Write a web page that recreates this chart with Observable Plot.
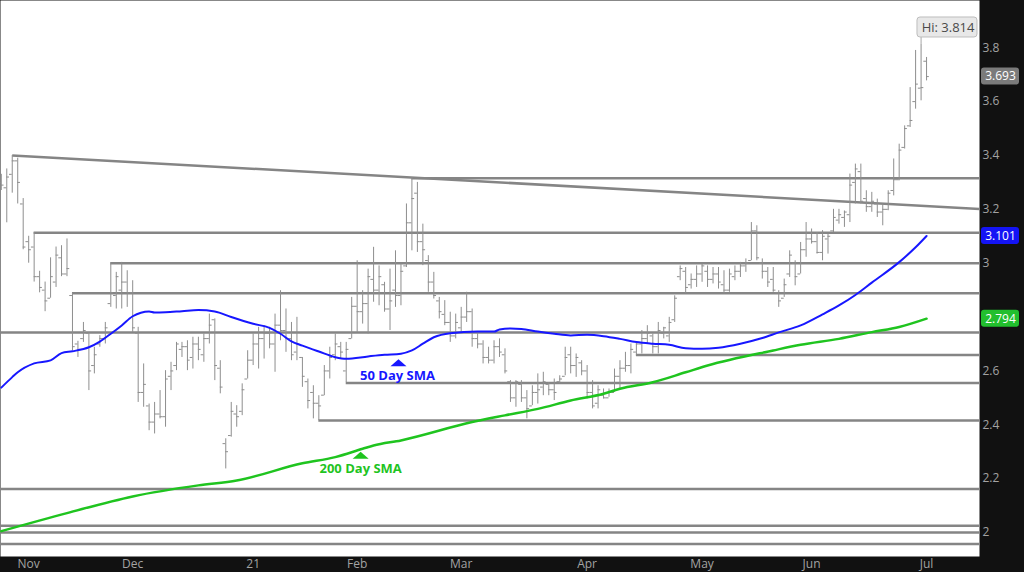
<!DOCTYPE html>
<html><head><meta charset="utf-8">
<script src="https://cdn.jsdelivr.net/npm/d3@7"></script>
<script src="https://cdn.jsdelivr.net/npm/@observablehq/plot@0.6"></script>
<style>
html,body{margin:0;padding:0;background:#111;overflow:hidden;}
</style>
</head><body><div id="chart"></div>
<script>
// ---- Daily OHLC bars (index = trading day, 0 = late Oct 2020) ----
const opens = [
3.30,3.28,3.33,3.38,3.22,3.08,3.06,2.95,2.90,2.87,
2.93,3.02,2.96,2.88,2.70,2.72,2.74,2.62,2.70,2.72,
2.85,2.88,2.90,2.93,2.89,2.74,2.52,2.47,2.41,2.44,
2.43,2.58,2.62,2.68,2.69,2.65,2.70,2.66,2.72,2.79,
2.61,2.33,2.36,2.44,2.45,2.57,2.64,2.70,2.72,2.74,
2.70,2.77,2.75,2.72,2.67,2.65,2.56,2.52,2.48,2.51,
2.60,2.66,2.69,2.60,2.72,2.84,2.82,2.85,2.94,2.90,
2.92,2.83,2.90,2.88,2.99,3.15,3.26,3.08,3.01,2.93,
2.86,2.81,2.78,2.73,2.76,2.80,2.82,2.72,2.70,2.65,
2.64,2.69,2.66,2.56,2.50,2.55,2.50,2.47,2.52,2.54,
2.55,2.53,2.56,2.58,2.66,2.62,2.63,2.60,2.52,2.48,
2.51,2.50,2.52,2.58,2.61,2.62,2.67,2.70,2.72,2.73,
2.69,2.74,2.73,2.79,2.95,2.97,2.92,2.94,2.96,2.97,
2.94,2.96,2.92,2.90,2.95,2.97,2.99,3.01,3.12,3.00,
2.97,2.94,2.89,2.87,2.96,3.00,2.96,3.05,3.09,3.08,
3.04,3.09,3.12,3.16,3.17,3.18,3.30,3.34,3.24,3.21,
3.22,3.19,3.20,3.27,3.31,3.43,3.51,3.60,3.65,3.75];
const highs = [
3.33,3.35,3.40,3.39,3.24,3.10,3.114,2.97,2.93,3.02,
3.06,3.065,3.09,2.888,2.71,2.78,2.743,2.688,2.731,2.78,
3.001,2.966,3.003,2.972,2.935,2.762,2.626,2.477,2.483,2.527,
2.601,2.632,2.706,2.706,2.712,2.725,2.725,2.737,2.811,2.793,
2.638,2.348,2.483,2.471,2.552,2.675,2.737,2.762,2.768,2.762,
2.811,2.898,2.83,2.78,2.799,2.65,2.57,2.545,2.508,2.62,
2.688,2.737,2.706,2.706,2.873,3.009,2.898,2.978,3.059,2.99,
2.929,2.978,3.046,2.997,3.22,3.318,3.30,3.145,3.028,2.966,
2.873,2.861,2.818,2.811,2.836,2.892,2.83,2.743,2.712,2.688,
2.712,2.719,2.682,2.564,2.564,2.564,2.527,2.545,2.589,2.595,
2.557,2.57,2.582,2.688,2.688,2.663,2.638,2.62,2.564,2.545,
2.533,2.533,2.607,2.638,2.669,2.70,2.706,2.75,2.768,2.737,
2.78,2.762,2.799,2.879,2.99,2.984,2.96,2.99,2.997,2.99,
2.984,2.984,2.972,2.978,2.99,3.003,3.016,3.151,3.139,3.016,
2.984,2.984,2.898,2.941,3.046,3.009,3.077,3.151,3.127,3.114,
3.121,3.108,3.20,3.20,3.194,3.331,3.368,3.368,3.269,3.263,
3.238,3.22,3.269,3.387,3.442,3.51,3.652,3.79,3.814,3.764];
const lows = [
3.27,3.15,3.26,3.22,3.05,3.00,2.93,2.89,2.82,2.87,
2.91,2.95,2.95,2.675,2.65,2.706,2.527,2.589,2.688,2.70,
2.836,2.83,2.83,2.836,2.743,2.483,2.465,2.378,2.366,2.422,
2.391,2.527,2.601,2.65,2.601,2.607,2.638,2.632,2.70,2.564,
2.515,2.236,2.354,2.391,2.434,2.57,2.62,2.607,2.644,2.682,
2.595,2.712,2.669,2.638,2.638,2.539,2.459,2.422,2.416,2.508,
2.57,2.638,2.644,2.557,2.719,2.743,2.774,2.737,2.855,2.842,
2.818,2.75,2.836,2.842,2.984,3.046,3.04,2.991,2.892,2.867,
2.793,2.768,2.706,2.719,2.743,2.78,2.688,2.682,2.626,2.626,
2.626,2.65,2.589,2.483,2.465,2.483,2.422,2.471,2.477,2.508,
2.508,2.49,2.552,2.582,2.589,2.576,2.582,2.496,2.459,2.459,
2.496,2.502,2.52,2.533,2.595,2.589,2.659,2.663,2.70,2.663,
2.663,2.719,2.706,2.78,2.935,2.888,2.904,2.91,2.929,2.91,
2.923,2.904,2.886,2.892,2.935,2.947,2.966,3.009,3.009,2.941,
2.91,2.892,2.836,2.873,2.947,2.916,2.96,3.022,3.071,3.034,
3.009,3.034,3.114,3.145,3.133,3.151,3.22,3.22,3.189,3.189,
3.17,3.139,3.195,3.25,3.306,3.424,3.504,3.572,3.603,3.677];
const closes = [
3.29,3.32,3.38,3.30,3.06,3.05,2.95,2.91,2.86,2.95,
3.03,2.96,2.98,2.69,2.68,2.75,2.60,2.66,2.72,2.76,
2.89,2.95,2.93,2.89,2.76,2.52,2.55,2.41,2.44,2.43,
2.57,2.60,2.70,2.69,2.64,2.70,2.68,2.72,2.77,2.62,
2.54,2.30,2.45,2.43,2.53,2.64,2.70,2.72,2.74,2.70,
2.77,2.75,2.72,2.66,2.70,2.58,2.49,2.48,2.47,2.60,
2.65,2.70,2.67,2.68,2.84,2.82,2.85,2.95,2.90,2.95,
2.83,2.86,2.88,2.97,3.15,3.24,3.08,3.05,2.93,2.88,
2.82,2.78,2.73,2.78,2.80,2.82,2.72,2.70,2.65,2.64,
2.69,2.67,2.60,2.50,2.56,2.50,2.46,2.52,2.53,2.56,
2.53,2.52,2.57,2.65,2.62,2.65,2.60,2.52,2.47,2.53,
2.50,2.52,2.58,2.61,2.62,2.68,2.70,2.72,2.74,2.69,
2.75,2.76,2.78,2.87,2.98,2.91,2.94,2.96,2.99,2.94,
2.96,2.93,2.90,2.96,2.97,2.99,3.00,3.12,3.02,2.97,
2.93,2.90,2.86,2.92,3.03,2.95,3.05,3.09,3.08,3.04,
3.10,3.10,3.17,3.18,3.19,3.29,3.35,3.23,3.21,3.23,
3.19,3.20,3.26,3.31,3.42,3.50,3.53,3.665,3.652,3.693];

// ---- Moving averages (bar index, value) ----
const sma50Idx = [0,2,3,6,9,11,13,16,18,20,22,24,27,28,30,33,36,39,42,46,49,51,53,55,58,61,63,67,70,73,75,77,79,82,87,90,91,93,95,98,101,104,107,110,113,116,119,122,125,128,131,135,139,142,146,150,153,156,159,164,167,169];
const sma50Val = [2.538,2.577,2.595,2.628,2.639,2.666,2.673,2.688,2.709,2.738,2.769,2.803,2.821,2.817,2.818,2.822,2.826,2.821,2.800,2.775,2.760,2.738,2.710,2.694,2.672,2.651,2.645,2.654,2.660,2.664,2.676,2.701,2.725,2.740,2.746,2.746,2.754,2.758,2.756,2.746,2.738,2.732,2.734,2.729,2.719,2.707,2.701,2.697,2.684,2.682,2.686,2.701,2.722,2.743,2.769,2.810,2.843,2.882,2.928,3.004,3.059,3.101];
const sma200Idx = [0,12,24,36,43,55,61,66,68,73,86,92,98,104,110,113,119,125,129,141,146,153,159,164,169];
const sma200Val = [2.005,2.072,2.134,2.175,2.193,2.257,2.280,2.311,2.323,2.342,2.410,2.435,2.459,2.490,2.515,2.534,2.558,2.595,2.620,2.676,2.697,2.719,2.744,2.763,2.794];

// ---- Support / resistance levels (start bar index; null = from left edge) ----
const levelValues = [3.315,3.113,3.0,2.888,2.743,2.659,2.555,2.416,2.162,2.025,2.0,1.957];
const levelStarts = [75,6,20,13,null,116,63,58,null,null,null,null];
// Trendline through two bar highs
const trendIdx = [2,75];
const trendVal = [3.40,3.318];

// ---- Axis labels ----
const monthTickIdx = [5,24,46,65,84,107,128,148,169];
const monthLabels = ["Nov","Dec","21","Feb","Mar","Apr","May","Jun","Jul"];
const priceTicks = [2,2.2,2.4,2.6,3,3.2,3.4,3.6,3.8];

// ---- Annotations ----
const hiValue = 3.814, hiIdx = 168;
const lastPrice = 3.693, last50 = 3.101, last200 = 2.794;
const sma50LabelIdx = 73, sma200LabelIdx = 66;

// ---- build ----
const bars = highs.map((h,i)=>({i, o:opens[i], h, l:lows[i], c:closes[i]}));
const sma50 = sma50Idx.map((i,k)=>({i, v:sma50Val[k]}));
const sma200 = sma200Idx.map((i,k)=>({i, v:sma200Val[k]}));
const xDomain = [-0.146, 178.67];
const yDomain = [1.9109, 3.9755];
const levels = levelValues.map((v,k)=>({v, s: levelStarts[k] == null ? xDomain[0] : levelStarts[k]}));
const slope = (trendVal[1]-trendVal[0])/(trendIdx[1]-trendIdx[0]);
const trend = [{x1:trendIdx[0], y1:trendVal[0], x2:xDomain[1], y2:trendVal[0]+slope*(xDomain[1]-trendIdx[0])}];
const tickLabel = new Map(monthTickIdx.map((t,k)=>[t, monthLabels[k]]));
const s50 = sma50.find(d=>d.i===sma50LabelIdx);
const s200 = sma200.find(d=>d.i===sma200LabelIdx);

const BLUE = "#1717ff", GREEN = "#1fc41f", BAR = "#8e8e8e", LEVEL = "#858585", AXIS = "#a3a3a3";
const flatTri = {draw(ctx){ ctx.moveTo(0,-3.5); ctx.lineTo(8,3.5); ctx.lineTo(-8,3.5); ctx.closePath(); }};
const xR = () => xDomain[1];
const box = (v, fill) => Plot.rect([v], {x1:xR, x2:xR, y1:d=>d, y2:d=>d, insetLeft:2, insetRight:-40, insetTop:-8.5, insetBottom:-8.5, rx:3, fill});
const boxText = (v) => Plot.text([v], {x:xR, y:d=>d, text:d=>d.toFixed(3), dx:21, fill:"#ffffff", fontSize:12, textAnchor:"middle"});

const chart = Plot.plot({
  width:1024, height:572,
  marginLeft:0, marginRight:45, marginTop:0, marginBottom:16,
  style:{background:"#111111", fontFamily:"'Open Sans', sans-serif", overflow:"visible"},
  x:{domain:xDomain, axis:null},
  y:{domain:yDomain, axis:null},
  marks:[
    Plot.frame({fill:"#ffffff", stroke:null}),
    Plot.ruleY(levels, {y:"v", x1:"s", x2:xR, stroke:LEVEL, strokeWidth:2.5}),
    Plot.link(trend, {x1:"x1", y1:"y1", x2:"x2", y2:"y2", stroke:LEVEL, strokeWidth:2.5}),
    Plot.ruleX(bars, {x:"i", y1:"l", y2:"h", stroke:BAR, strokeWidth:1}),
    Plot.ruleY(bars, {y:"o", x1:d=>d.i-0.5, x2:"i", stroke:BAR, strokeWidth:1}),
    Plot.ruleY(bars, {y:"c", x1:"i", x2:d=>d.i+0.5, stroke:BAR, strokeWidth:1}),
    Plot.line(sma200, {x:"i", y:"v", stroke:GREEN, strokeWidth:2.5, curve:"monotone-x"}),
    Plot.line(sma50, {x:"i", y:"v", stroke:BLUE, strokeWidth:2, curve:"monotone-x"}),
    Plot.dot([s50], {x:"i", y:"v", dy:9, dx:-2.5, symbol:flatTri, fill:BLUE, stroke:null, r:5}),
    Plot.text([s50], {x:"i", y:"v", dy:22, dx:-3.5, text:()=>"50 Day SMA", fill:BLUE, fontWeight:"bold", fontSize:13}),
    Plot.dot([s200], {x:"i", y:"v", dy:6.5, dx:-2, symbol:flatTri, fill:GREEN, stroke:null, r:5}),
    Plot.text([s200], {x:"i", y:"v", dy:20, dx:-2, text:()=>"200 Day SMA", fill:GREEN, fontWeight:"bold", fontSize:13}),
    // Hi callout
    Plot.ruleX([hiValue], {x:()=>hiIdx, y1:d=>d, y2:d=>d, insetTop:-7, stroke:"#a8a8a8", strokeWidth:1}),
    Plot.rect([hiValue], {x1:()=>hiIdx, x2:()=>hiIdx, y1:d=>d, y2:d=>d, insetLeft:-3.6, insetRight:-56.4, insetTop:-26.5, insetBottom:6.5, rx:3, fill:"#e8e8e8", stroke:"#bdbdbd"}),
    Plot.text([hiValue], {x:()=>hiIdx, y:d=>d, text:d=>"Hi: "+d.toFixed(3), dx:27, dy:-16, fill:"#4a4a4a", fontSize:13}),
    // axes
    Plot.axisY(priceTicks, {anchor:"right", tickSize:0, tickPadding:3, color:AXIS, fontSize:12, tickFormat:d=>String(+d.toFixed(1))}),
    Plot.axisX(monthTickIdx, {anchor:"bottom", tickSize:0, tickPadding:3, color:AXIS, fontSize:12, tickFormat:d=>tickLabel.get(d)}),
    // last-value boxes
    box(lastPrice, "#7b7b7b"), boxText(lastPrice),
    box(last50, "#1414f5"), boxText(last50),
    box(last200, "#22bf2e"), boxText(last200)
  ]
});
document.getElementById("chart").appendChild(chart);
</script>
</body></html>
